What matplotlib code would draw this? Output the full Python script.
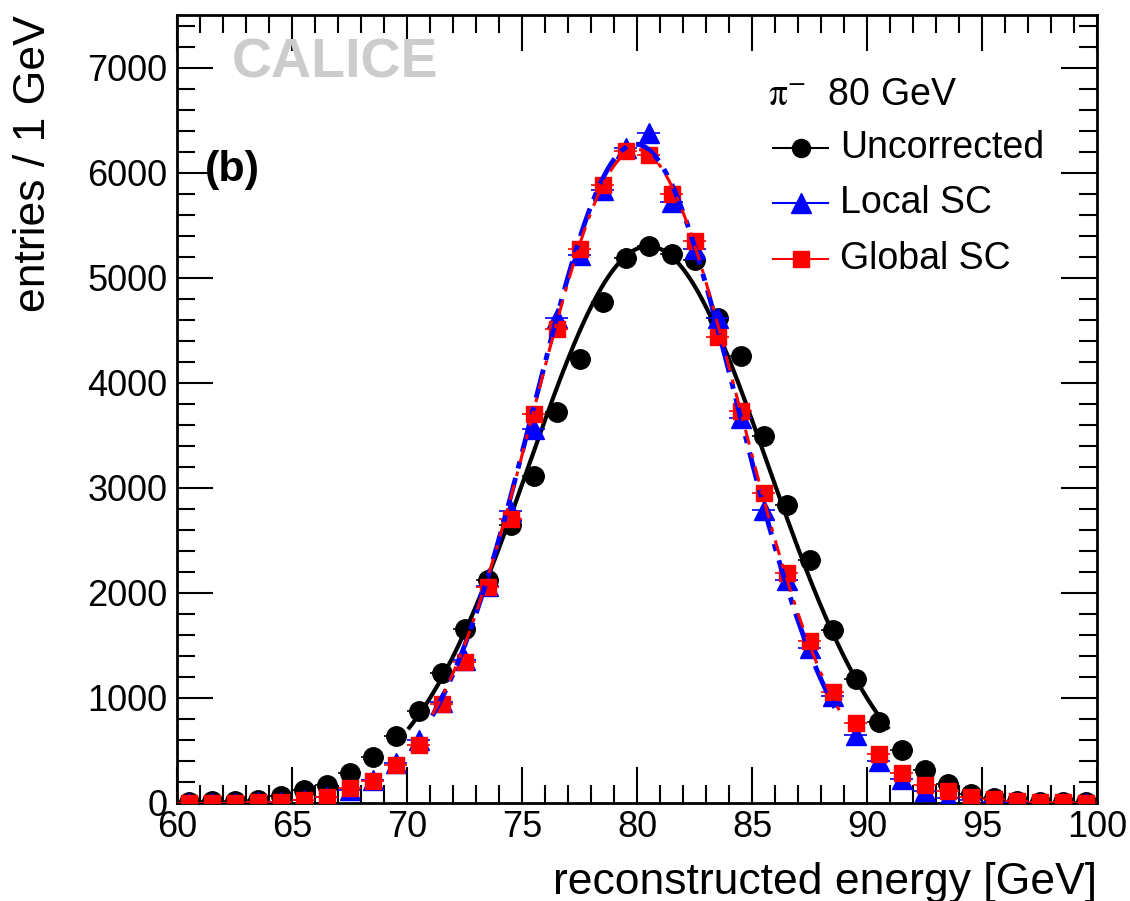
import numpy as np
import matplotlib
matplotlib.use("Agg")
import matplotlib.pyplot as plt
from matplotlib.ticker import MultipleLocator

plt.rcParams['font.family'] = ['Liberation Sans', 'DejaVu Sans']
plt.rcParams['mathtext.fontset'] = 'stix'

# bin centres [GeV]
energy = [60.5 + i for i in range(40)]

uncorrected = [10, 20, 20, 30, 70, 120, 170, 290, 440, 640,
               880, 1240, 1660, 2120, 2650, 3110, 3720, 4230, 4770, 5190,
               5300, 5230, 5170, 4620, 4250, 3490, 2840, 2310, 1650, 1180,
               770, 500, 310, 180, 90, 50, 20, 10, 5, 5]
local_sc = [0, 0, 0, 5, 10, 30, 60, 120, 220, 380,
            600, 960, 1360, 2070, 2780, 3560, 4620, 5220, 5830, 6230,
            6380, 5720, 5270, 4620, 3660, 2790, 2120, 1480, 1020, 650,
            400, 230, 110, 50, 30, 10, 5, 0, 0, 0]
global_sc = [0, 0, 0, 5, 10, 30, 60, 140, 210, 360,
             550, 940, 1340, 2060, 2700, 3700, 4510, 5270, 5880, 6210,
             6170, 5800, 5350, 4440, 3730, 2950, 2190, 1540, 1060, 760,
             470, 290, 170, 110, 60, 40, 20, 10, 5, 0]

# Gaussian fit parameters: amplitude, mean, sigma, range low, range high
fit_unc = [5300, 80.5, 5.2, 70.1, 90.9]
fit_loc = [6270, 79.95, 4.4, 71.1, 88.8]
fit_glo = [6220, 80.0, 4.45, 71.1, 88.9]

fig = plt.figure(figsize=(11.30, 9.01), dpi=100)
ax = fig.add_axes([177/1130, 1-803/901, 920/1130, 788/901])

def gauss_curve(p):
    a, m, s, lo, hi = p
    x = np.linspace(lo, hi, 300)
    return x, a*np.exp(-0.5*((x-m)/s)**2)

x = np.array(energy)
# uncorrected
ax.errorbar(x, uncorrected, xerr=0.5, fmt='o', color='black', ms=14,
            elinewidth=1.2, capsize=0, zorder=3)
xf, yf = gauss_curve(fit_unc)
ax.plot(xf, yf, color='black', lw=3, zorder=4)
# local SC
ax.errorbar(x, local_sc, xerr=0.5, fmt='^', color='blue', ms=14,
            elinewidth=1.2, capsize=0, zorder=5)
# global SC
ax.errorbar(x, global_sc, xerr=0.5, fmt='s', color='red', ms=12,
            elinewidth=1.2, capsize=0, zorder=6)
xf, yf = gauss_curve(fit_loc)
ax.plot(xf, yf, color='blue', lw=3.5, ls=(0, (6, 2, 1.5, 2)), zorder=7)
xf, yf = gauss_curve(fit_glo)
ax.plot(xf, yf, color='red', lw=2.2, ls=(0, (5, 3, 1.5, 3)), zorder=8)

ax.set_xlim(60, 100)
ax.set_ylim(0, 7500)
ax.xaxis.set_major_locator(MultipleLocator(5))
ax.xaxis.set_minor_locator(MultipleLocator(1))
ax.yaxis.set_major_locator(MultipleLocator(1000))
ax.yaxis.set_minor_locator(MultipleLocator(200))
ax.tick_params(which='both', direction='in', top=True, right=True,
               labelsize=26, width=1.5)
ax.tick_params(which='major', length=26)
ax.tick_params(which='minor', length=13)
ax.tick_params(axis='x', which='major', pad=5)
ax.tick_params(axis='y', which='major', pad=7)
for sp in ax.spines.values():
    sp.set_linewidth(2)

ax.set_xlabel('reconstructed energy [GeV]', fontsize=32, loc='right', labelpad=12)
ax.set_ylabel('entries / 1 GeV', fontsize=32, loc='top', labelpad=24)

ax.text(0.172, 0.939, 'CALICE', transform=ax.transAxes, fontsize=40,
        fontweight='bold', color='#cccccc', ha='center', va='center')
ax.text(0.030, 0.803, '(b)', transform=ax.transAxes, fontsize=31,
        fontweight='bold', ha='left', va='center')

# legend
ax.text(0.642, 0.898, r'$\mathrm{\pi}^{-}$  80 GeV', transform=ax.transAxes,
        fontsize=27, ha='left', va='center')
rows = [('Uncorrected', 'black', 'o', 13, 0.831),
        ('Local SC', 'blue', '^', 14, 0.761),
        ('Global SC', 'red', 's', 11, 0.690)]
for label, col, mk, ms, yy in rows:
    ax.plot([0.648, 0.708], [yy, yy], color=col, lw=1.5, transform=ax.transAxes,
            clip_on=False, zorder=10)
    ax.plot([0.678], [yy], marker=mk, color=col, ms=ms, transform=ax.transAxes,
            clip_on=False, zorder=11)
    ax.text(0.721, yy, label, transform=ax.transAxes, fontsize=27,
            ha='left', va='center')

fig.savefig('out.png', dpi=100)
